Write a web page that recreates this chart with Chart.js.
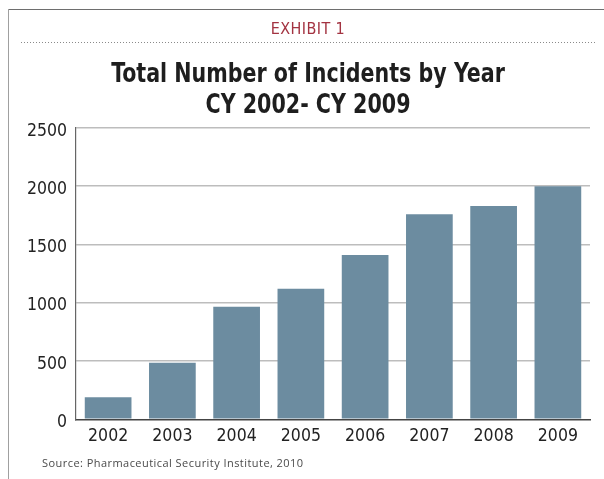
<!DOCTYPE html>
<html>
<head>
<meta charset="utf-8">
<script src="https://cdn.jsdelivr.net/npm/chart.js@4/dist/chart.umd.min.js"></script>
<style>
  html, body { margin: 0; padding: 0; background: #fff; }
  body { width: 604px; height: 479px; position: relative; overflow: hidden; }
  #frameTop { position: absolute; left: 8px; top: 9px; width: 596px; height: 0; border-top: 1.5px solid #6e6e6e; }
  #frameLeft { position: absolute; left: 7.5px; top: 9px; width: 0; height: 470px; border-left: 1.2px solid #a0a0a0; }
  #dots { position: absolute; left: 21px; top: 42px; width: 575px; height: 1.3px;
          background-image: repeating-linear-gradient(to right, #8a8a8a 0 1.2px, transparent 1.2px 3px); }
  #exhibit { position: absolute; left: 0; width: 616px; top: 19px; text-align: center;
             font-family: "DejaVu Sans Condensed", sans-serif; font-size: 16px;
             color: #a33341; letter-spacing: 0.4px; }
  #title { position: absolute; left: 0; width: 616px; top: 57px; text-align: center;
           font-family: "DejaVu Sans Condensed", sans-serif; font-weight: bold;
           font-size: 26.5px; line-height: 31px; color: #1e1e1e;
           transform: scaleX(0.865); transform-origin: 308px 0; }
  #source { position: absolute; left: 42px; top: 455px;
            font-family: "Open Sans", "Noto Sans", sans-serif; font-size: 11px; color: #4a4a4a; letter-spacing: 0.45px; }
  #wrap { position: absolute; left: 0; top: 0; width: 604px; height: 479px; }
</style>
</head>
<body>
<div id="wrap"><canvas id="c" width="604" height="479"></canvas></div>
<div id="frameTop"></div>
<div id="frameLeft"></div>
<div id="exhibit">EXHIBIT 1</div>
<div id="dots"></div>
<div id="title">Total Number of Incidents by Year<br>CY 2002- CY 2009</div>
<div id="source">Source: Pharmaceutical Security Institute, 2010</div>
<script>
const years = ["2002", "2003", "2004", "2005", "2006", "2007", "2008", "2009"];
const incidents = [190, 485, 965, 1120, 1410, 1760, 1830, 2000];
const yTicks = [0, 500, 1000, 1500, 2000, 2500];

const tickFont = { family: "DejaVu Sans Condensed", size: 17.5 };

new Chart(document.getElementById("c"), {
  type: "bar",
  data: {
    labels: years,
    datasets: [{
      data: incidents,
      backgroundColor: "#6c8ca0",
      borderWidth: 0,
      barPercentage: 0.727,
      categoryPercentage: 1.0
    }]
  },
  options: {
    responsive: false,
    animation: false,
    devicePixelRatio: 1,
    layout: { padding: { left: 0, right: 14, top: 128, bottom: 29.7 } },
    plugins: { legend: { display: false }, tooltip: { enabled: false }, title: { display: false } },
    scales: {
      x: {
        grid: { display: false, drawTicks: false },
        border: { display: true, color: "#444", width: 1.6 },
        ticks: { color: "#222", font: tickFont, padding: 7, maxRotation: 0 },
        afterFit: (s) => { s.height = 30; }
      },
      y: {
        min: 0, max: 2500,
        afterBuildTicks: (s) => { s.ticks = yTicks.map(v => ({ value: v })); },
        grid: {
          drawTicks: false,
          color: (ctx) => ctx.tick && ctx.tick.value === 0 ? "rgba(0,0,0,0)" : "#bdbdbd",
          lineWidth: 1.6
        },
        border: { display: true, color: "#666", width: 1.2 },
        ticks: { color: "#222", font: tickFont, padding: 9, labelOffset: 3,
                 callback: (v) => String(v) },
        afterFit: (s) => { s.width = 76; }
      }
    }
  }
});
</script>
</body>
</html>
